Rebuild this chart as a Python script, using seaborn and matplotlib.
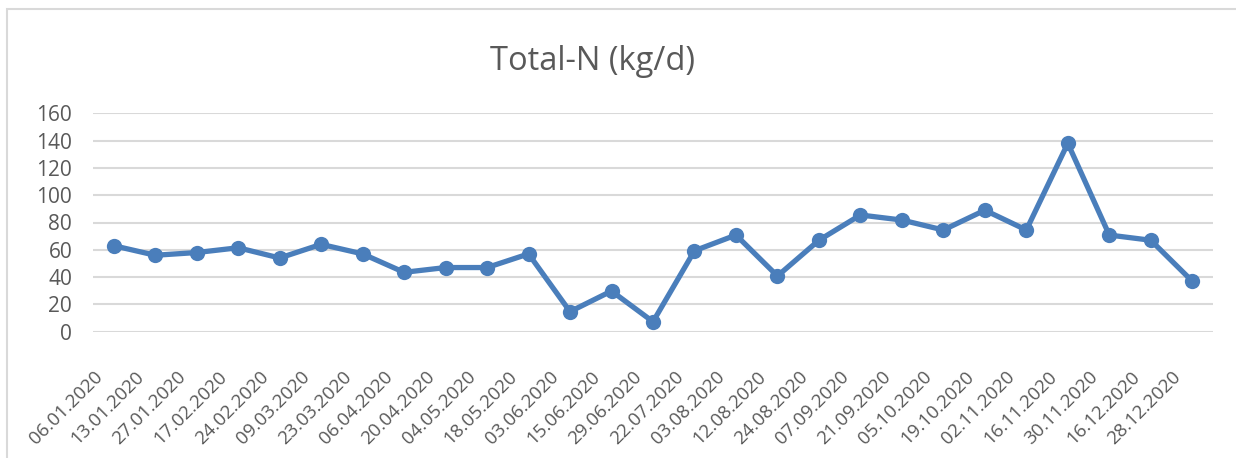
import matplotlib
matplotlib.use("Agg")
import matplotlib.pyplot as plt
import matplotlib.transforms as mtransforms
import seaborn as sns
import pandas as pd
from matplotlib.patches import Rectangle

dates = ["06.01.2020", "13.01.2020", "27.01.2020", "17.02.2020", "24.02.2020",
         "09.03.2020", "23.03.2020", "06.04.2020", "20.04.2020", "04.05.2020",
         "18.05.2020", "03.06.2020", "15.06.2020", "29.06.2020", "22.07.2020",
         "03.08.2020", "12.08.2020", "24.08.2020", "07.09.2020", "21.09.2020",
         "05.10.2020", "19.10.2020", "02.11.2020", "16.11.2020", "30.11.2020",
         "16.12.2020", "28.12.2020"]
total_n = [63, 56, 58, 61.5, 54, 64, 57, 43.5, 47, 47,
           57, 14.7, 29.8, 7.3, 59.3, 70.8, 40.8, 67, 85.5, 81.8,
           74.5, 89, 74.5, 138, 70.8, 67, 37]
y_ticks = [0, 20, 40, 60, 80, 100, 120, 140, 160]

sns.set_style("white")
plt.rcParams["font.family"] = ["Open Sans", "DejaVu Sans"]

text_color = "#595959"
line_color = "#4A7EBB"

df = pd.DataFrame({"date": dates, "value": total_n, "pos": range(len(dates))})

fig = plt.figure(figsize=(12.36, 4.58), dpi=100)
ax = fig.add_axes([93 / 1236, 1 - 331.7 / 458, 1120 / 1236, (331.7 - 113.3) / 458])

sns.lineplot(data=df, x="pos", y="value", ax=ax, color=line_color,
             linewidth=3.8, marker="o", markersize=11, markeredgewidth=0)

ax.set_xlim(-0.5, len(dates) - 0.5)
ax.set_ylim(0, 160)
ax.set_yticks(y_ticks)
ax.set_xticks(range(len(dates)))
ax.set_xticklabels(dates, rotation=45, ha="right", va="center",
                   rotation_mode="anchor")
ax.grid(axis="y", color="#d9d9d9", linewidth=1.5)
ax.set_axisbelow(True)
for s in ax.spines.values():
    s.set_visible(False)
ax.tick_params(axis="both", length=0, colors=text_color)
ax.tick_params(axis="x", pad=30.5, labelsize=13.5)
ax.tick_params(axis="y", pad=15, labelsize=15)
ax.set_xlabel("")
ax.set_ylabel("")

# shift the rotated date labels a little to the left, like the original
shift = mtransforms.ScaledTranslation(-14 / 100, 0, fig.dpi_scale_trans)
for lbl in ax.get_xticklabels():
    lbl.set_transform(lbl.get_transform() + shift)

fig.text(0.479, 1 - 61 / 458, "Total-N (kg/d)", ha="center", va="center",
         fontsize=23.5, color=text_color)

# chart area border
fig.patches.append(Rectangle((7 / 1236, -0.1), 1.2, 1 - 9.5 / 458 + 0.1,
                             transform=fig.transFigure, fill=False,
                             edgecolor="#d9d9d9", linewidth=1.5))

fig.savefig("out.png", dpi=100)
